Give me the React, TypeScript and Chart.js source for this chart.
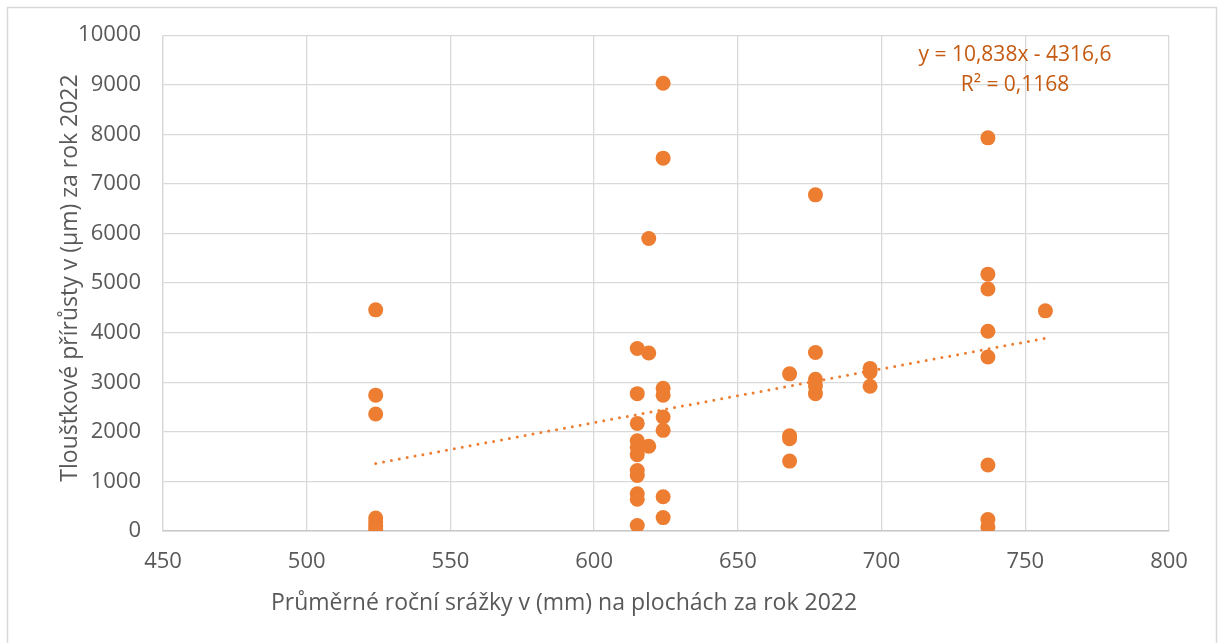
import React, { useEffect, useRef } from "react";
import { Chart, registerables } from "chart.js";

Chart.register(...registerables);

const xTitle = "Průměrné roční srážky v (mm) na plochách za rok 2022";
const yTitle = "Tloušťkové přírůsty v (µm) za rok 2022";
const eqLabel = "y = 10,838x - 4316,6";
const r2Label = "R² = 0,1168";
const slope = 10.838;
const intercept = -4316.6;

const precipX = [
  524, 524, 524, 524, 524, 524, 524,
  615, 615, 615, 615, 615, 615, 615, 615, 615, 615, 615,
  619, 619, 619,
  624, 624, 624, 624, 624, 624, 624, 624,
  668, 668, 668, 668,
  677, 677, 677, 677, 677,
  696, 696, 696,
  737, 737, 737, 737, 737, 737, 737, 737,
  757,
];
const growthY = [
  4460, 2740, 2360, 260, 180, 90, 10,
  3680, 2770, 2170, 1820, 1690, 1540, 1220, 1120, 750, 640, 110,
  5900, 3590, 1710,
  9030, 7520, 2880, 2740, 2300, 2030, 690, 270,
  3170, 1920, 1860, 1410,
  6780, 3600, 3060, 2930, 2770,
  3280, 3210, 2920,
  7930, 5180, 4880, 4030, 3510, 1330, 230, 80,
  4440,
];

const FONT = "'Open Sans', sans-serif";
const GREY = "#595959";
const ORANGE = "#ED7D31";
const LABEL_ORANGE = "#C55A11";

export default function App() {
  const ref = useRef<HTMLCanvasElement>(null);
  useEffect(() => {
    if (!ref.current) return;
    const points = precipX.map((x, i) => ({ x, y: growthY[i] }));
    const xMin = Math.min(...precipX);
    const xMax = Math.max(...precipX);
    const trend = [
      { x: xMin, y: slope * xMin + intercept },
      { x: xMax, y: slope * xMax + intercept },
    ];
    const framePlugin = {
      id: "frame",
      beforeDraw(chart: any) {
        const c = chart.ctx;
        c.save();
        c.fillStyle = "#ffffff";
        c.fillRect(0, 0, chart.width, chart.height);
        c.strokeStyle = "#d9d9d9";
        c.lineWidth = 1.5;
        c.strokeRect(7.5, 7.5, 1209, 650);
        c.restore();
      },
      afterDraw(chart: any) {
        const c = chart.ctx;
        c.save();
        c.fillStyle = GREY;
        c.font = `23px ${FONT}`;
        c.textAlign = "center";
        c.textBaseline = "middle";
        c.fillText(xTitle, 564, 603);
        c.translate(70, 278);
        c.rotate(-Math.PI / 2);
        c.fillText(yTitle, 0, 0);
        c.restore();
        c.save();
        c.fillStyle = LABEL_ORANGE;
        c.font = `21px ${FONT}`;
        c.textAlign = "center";
        c.textBaseline = "middle";
        c.fillText(eqLabel, 1015, 55);
        c.fillText(r2Label, 1015, 85);
        c.restore();
      },
    };
    const chart = new Chart(ref.current, {
      type: "scatter",
      data: {
        datasets: [
          {
            type: "scatter",
            data: points,
            backgroundColor: ORANGE,
            borderColor: ORANGE,
            pointRadius: 7.5,
            pointHoverRadius: 7.5,
            borderWidth: 0,
            order: 1,
          },
          {
            type: "line",
            data: trend,
            borderColor: ORANGE,
            borderWidth: 3,
            borderDash: [0, 8],
            borderCapStyle: "round",
            pointRadius: 0,
            fill: false,
            order: 2,
          } as any,
        ],
      },
      options: {
        animation: false,
        responsive: false,
        layout: { padding: { top: 35, right: 53, left: 0, bottom: 0 } },
        plugins: {
          legend: { display: false },
          tooltip: { enabled: false },
        },
        scales: {
          x: {
            type: "linear",
            min: 450,
            max: 800,
            ticks: {
              stepSize: 50,
              color: GREY,
              font: { family: FONT, size: 22 },
              padding: 18,
              callback: (v: any) => String(v),
            },
            grid: { color: "#d9d9d9", lineWidth: 1.3, drawTicks: false },
            border: { color: "#c8c8c8", width: 1.5 },
            afterFit(scale: any) {
              scale.height = 112;
            },
          },
          y: {
            type: "linear",
            min: 0,
            max: 10000,
            ticks: {
              stepSize: 1000,
              color: GREY,
              font: { family: FONT, size: 22 },
              padding: 22,
              callback: (v: any) => String(v),
            },
            grid: { color: "#d9d9d9", lineWidth: 1.3, drawTicks: false },
            border: { color: "#d9d9d9", width: 1.3 },
            afterFit(scale: any) {
              scale.width = 163;
            },
          },
        },
      },
      plugins: [framePlugin],
    });
    return () => chart.destroy();
  }, []);
  return (
    <div style={{ position: "fixed", left: 0, top: 0, width: 1222, height: 643, background: "#fff" }}>
      <canvas ref={ref} width={1222} height={643} />
    </div>
  );
}
